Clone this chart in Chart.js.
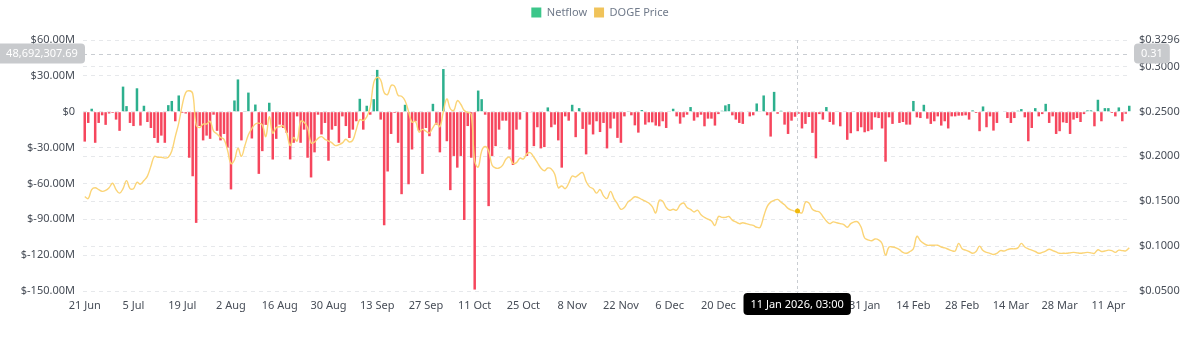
<!DOCTYPE html>
<html>
<head>
<meta charset="utf-8">
<script src="https://cdn.jsdelivr.net/npm/chart.js@4.4.1/dist/chart.umd.min.js"></script>
<style>
  html, body { margin: 0; padding: 0; background: #ffffff; }
  #wrap { width: 1200px; height: 340px; position: relative; }
</style>
</head>
<body>
<div id="wrap"><canvas id="chart"></canvas></div>
<script>
// Daily DOGE exchange netflow (USD millions) and DOGE price (USD), 21 Jun 2025 onward
const startDate = [2025, 5, 21];
const monthNames = ['Jan','Feb','Mar','Apr','May','Jun','Jul','Aug','Sep','Oct','Nov','Dec'];

const netflowM = [
  -25, -9.4, 2.5, -26, -9.4, -3, -11, -1.5, -1, -6.6,
  -16, 21, 4.7, -9.4, -12, 19.6, -11.6, 5, -8.6, -13.6,
  -22, -26, -20, -26, 5.5, 9, -8, 13.6, -1, -1.5,
  -38.5, -54, -93, -12, -24, -20, -22.7, -2.5, -16, -24,
  -18.6, -30, -65, 9.4, 27, -24, 0.5, 16, -22.4, 6,
  -52, -33, -11, 7.5, -40, -22.7, -10.8, -13.6, -17.7, -39.9,
  -26, -3.9, -26, -15, -38.5, -55, -34, -2.5, -19, -9.4,
  -41, -15, -12, -26, -3.9, -12, -22, -15, -8, 10.8,
  -15, 5, -2.5, 10.5, 35, -6.6, -95, -50, -18.6, -1,
  -26, -69, 5.8, -60.7, -31.6, -8, -15.8, -52, -13.6, -20.5,
  6.6, -10.8, -34, 35.7, -24.7, -65.6, -37, -46.8, -37, -90.6,
  -12, -38.5, -148.8, 17.7, 10.5, -2.5, -79, -37, -28.8, -15,
  -7.5, -7.5, -31.6, -44.6, -15, -6.6, 0.3, -37, -0.3, -28.8,
  -13, -30.7, -29.6, 3.6, -13, -10.8, -24, -46.8, -3.9, -7.5,
  5.8, -21.3, 3, -14.4, -35.7, -10.8, -19, -8, -17, -9.4,
  -30.7, -14, -5.8, -21.9, -26, -3.9, 0.5, -3, -11.4, -17.5,
  1.4, -10.8, -8.9, -8.9, -11.6, -12.2, -8, -13.6, 0, 2.5,
  -3.9, -10, -4.7, -2.5, 3.9, -7.5, -4.7, -2.5, -12.2, -5.8,
  -5.8, -11.6, -2, 0.8, 5.3, 6.4, -3, -6.6, -9.4, -10.2,
  0, -3.9, -3, 6.9, 0.3, 13.6, -3, -20.8, 16.6, -1.7,
  0.8, -10.8, -18.6, -7.5, -4.2, -1.7, -14, -10.2, -4.4, -17.7,
  -39, -2, -6.6, 3.9, -8.6, -10.8, 0, -12.2, 0, -23.5,
  -18, 0.5, -16.3, -13, -17.2, -16.3, -15, -4.7, -5.3, -14,
  -41.8, -4.7, -10.2, 0, -9.4, -8.6, -10.8, -10.8, 9, -4.7,
  -5.3, 5.8, -5.8, -10.2, -8, -3.9, -11.6, -8, -14, -3.9,
  -3.9, -3.3, -3.3, -3, -6.6, 1.1, -1.1, -16.3, 4.4, -13,
  -3.9, -15.8, -9.4, 0, 0, -5.3, -9.4, -5.3, 0.8, 2.2,
  -4.7, -24.7, -13.6, 3, -3.9, -2, 6.6, -9.4, -3.9, -18.6,
  -16.3, -8.9, -9.4, -18.6, -6.6, -5.3, -8.6, -2, 1.1, 1.1,
  -12.2, 10, -8, 3, 3, -1.1, -3.9, 3.6, -8, -1.7,
  5
];

const dogePrice = [
  0.155, 0.153, 0.163, 0.165, 0.163, 0.161, 0.162, 0.165, 0.170, 0.163,
  0.159, 0.164, 0.173, 0.164, 0.164, 0.171, 0.169, 0.173, 0.178, 0.189,
  0.200, 0.199, 0.199, 0.198, 0.199, 0.206, 0.222, 0.237, 0.257, 0.271,
  0.273, 0.270, 0.235, 0.232, 0.236, 0.236, 0.239, 0.228, 0.225, 0.221,
  0.219, 0.207, 0.192, 0.196, 0.209, 0.200, 0.212, 0.224, 0.231, 0.236,
  0.237, 0.235, 0.222, 0.244, 0.226, 0.232, 0.233, 0.234, 0.226, 0.212,
  0.221, 0.217, 0.239, 0.238, 0.232, 0.215, 0.216, 0.220, 0.222, 0.219,
  0.217, 0.215, 0.212, 0.213, 0.215, 0.219, 0.216, 0.218, 0.230, 0.241,
  0.240, 0.244, 0.255, 0.282, 0.288, 0.285, 0.271, 0.269, 0.279, 0.278,
  0.268, 0.267, 0.262, 0.250, 0.238, 0.239, 0.227, 0.230, 0.228, 0.226,
  0.232, 0.237, 0.233, 0.250, 0.264, 0.253, 0.251, 0.262, 0.258, 0.251,
  0.249, 0.247, 0.195, 0.188, 0.206, 0.211, 0.206, 0.190, 0.187, 0.187,
  0.190, 0.197, 0.199, 0.192, 0.193, 0.198, 0.197, 0.203, 0.204, 0.199,
  0.193, 0.187, 0.184, 0.187, 0.186, 0.180, 0.165, 0.167, 0.164, 0.170,
  0.178, 0.177, 0.180, 0.182, 0.172, 0.166, 0.164, 0.159, 0.163, 0.156,
  0.153, 0.161, 0.153, 0.147, 0.141, 0.143, 0.149, 0.152, 0.155, 0.154,
  0.152, 0.150, 0.148, 0.144, 0.137, 0.151, 0.150, 0.143, 0.140, 0.141,
  0.140, 0.146, 0.148, 0.143, 0.141, 0.138, 0.140, 0.135, 0.132, 0.130,
  0.128, 0.123, 0.133, 0.132, 0.132, 0.133, 0.129, 0.127, 0.125, 0.126,
  0.125, 0.124, 0.123, 0.121, 0.121, 0.133, 0.144, 0.149, 0.151, 0.152,
  0.149, 0.146, 0.142, 0.140, 0.139, 0.138, 0.137, 0.149, 0.148, 0.141,
  0.139, 0.138, 0.133, 0.128, 0.125, 0.127, 0.126, 0.125, 0.124, 0.121,
  0.125, 0.127, 0.127, 0.121, 0.109, 0.107, 0.106, 0.108, 0.107, 0.103,
  0.090, 0.099, 0.099, 0.098, 0.096, 0.093, 0.092, 0.094, 0.097, 0.111,
  0.106, 0.103, 0.101, 0.101, 0.101, 0.101, 0.099, 0.098, 0.0965, 0.095,
  0.0945, 0.103, 0.097, 0.0955, 0.094, 0.092, 0.094, 0.100, 0.095, 0.093,
  0.092, 0.0906, 0.092, 0.095, 0.0945, 0.096, 0.097, 0.097, 0.098, 0.103,
  0.099, 0.097, 0.0955, 0.094, 0.092, 0.093, 0.0945, 0.0965, 0.095, 0.0935,
  0.092, 0.092, 0.092, 0.0925, 0.093, 0.0925, 0.092, 0.0925, 0.093, 0.0925,
  0.092, 0.096, 0.094, 0.0945, 0.0955, 0.095, 0.093, 0.0955, 0.095, 0.0948,
  0.098
];

const netflowTicks = [-150, -120, -90, -60, -30, 0, 30, 60];
const priceTicks = [0.05, 0.10, 0.15, 0.20, 0.25, 0.30, 0.3296];

// Hovered point shown by the crosshair
const crossIndex = 204;
const crossHour = 3;
const crossNetflow = 48692307.69;
const crossLabel = '11 Jan 2026, 03:00';

// One category per day
const dayLabels = netflowM.map((_, i) => {
  const d = new Date(startDate[0], startDate[1], startDate[2] + i);
  return d.getDate() + ' ' + monthNames[d.getMonth()];
});

const GREEN = '#2DB08E';
const RED = '#F6465D';
const LINE = '#FBD476';
const TEXT = '#474D57';
const GRID = '#E6E8EB';

Chart.defaults.font.family = '"Noto Sans", sans-serif';
Chart.defaults.font.size = 11;
Chart.defaults.color = TEXT;

function roundRect(ctx, x, y, w, h, r) {
  ctx.beginPath();
  ctx.moveTo(x + r, y);
  ctx.lineTo(x + w - r, y);
  ctx.quadraticCurveTo(x + w, y, x + w, y + r);
  ctx.lineTo(x + w, y + h - r);
  ctx.quadraticCurveTo(x + w, y + h, x + w - r, y + h);
  ctx.lineTo(x + r, y + h);
  ctx.quadraticCurveTo(x, y + h, x, y + h - r);
  ctx.lineTo(x, y + r);
  ctx.quadraticCurveTo(x, y, x + r, y);
  ctx.closePath();
}

// Extra room between the legend and the plot
const legendGap = {
  id: 'legendGap',
  beforeLayout(chart) {
    const lg = chart.legend;
    if (lg && !lg._gapPatched) {
      const fit = lg.fit;
      lg.fit = function () { fit.call(this); this.height += 12; };
      lg._gapPatched = true;
    }
  }
};

const crosshair = {
  id: 'crosshair',
  afterDraw(chart) {
    const { ctx, chartArea: a, scales } = chart;
    const xs = scales.x, ys = scales.y, yp = scales.y1;
    const step = (a.right - a.left) / dayLabels.length;
    const cx = xs.getPixelForValue(crossIndex) + step * (0.5 + crossHour / 24);
    const cy = ys.getPixelForValue(crossNetflow / 1e6);
    const rightValue = yp.getValueForPixel(cy);

    ctx.save();
    ctx.lineWidth = 1;
    ctx.strokeStyle = '#C9CDD2';
    ctx.setLineDash([4, 4]);
    ctx.beginPath();
    ctx.moveTo(a.left, Math.round(cy) + 0.5);
    ctx.lineTo(a.right, Math.round(cy) + 0.5);
    ctx.stroke();
    ctx.setLineDash([3, 3]);
    ctx.beginPath();
    ctx.moveTo(Math.round(cx) + 0.5, a.top);
    ctx.lineTo(Math.round(cx) + 0.5, a.bottom + 2);
    ctx.stroke();
    ctx.setLineDash([]);

    // point on the price line
    const py = yp.getPixelForValue(dogePrice[crossIndex]);
    ctx.fillStyle = '#F0B90B';
    ctx.beginPath();
    ctx.arc(Math.round(cx) + 0.5, py, 2.5, 0, Math.PI * 2);
    ctx.fill();

    ctx.font = '11px "Noto Sans", sans-serif';
    ctx.textBaseline = 'middle';
    ctx.textAlign = 'center';

    // left value badge
    const lt = crossNetflow.toLocaleString('en-US', { minimumFractionDigits: 2, maximumFractionDigits: 2 });
    ctx.fillStyle = '#C8CACD';
    roundRect(ctx, -4, cy - 10, 89, 20, 4);
    ctx.fill();
    ctx.fillStyle = '#FFFFFF';
    ctx.fillText(lt, 42, cy + 0.5);

    // right value badge
    const rt = rightValue.toFixed(2);
    const rw = ctx.measureText(rt).width + 14;
    ctx.fillStyle = '#C8CACD';
    roundRect(ctx, a.right + 3, cy - 10, rw, 20, 4);
    ctx.fill();
    ctx.fillStyle = '#FFFFFF';
    ctx.fillText(rt, a.right + 3 + rw / 2, cy + 0.5);

    // date badge on the x axis
    const dw = ctx.measureText(crossLabel).width + 14;
    ctx.fillStyle = '#000000';
    roundRect(ctx, cx - dw / 2, a.bottom + 2, dw, 22, 4);
    ctx.fill();
    ctx.fillStyle = '#FFFFFF';
    ctx.fillText(crossLabel, cx, a.bottom + 13.5);
    ctx.restore();
  }
};

new Chart(document.getElementById('chart'), {
  data: {
    labels: dayLabels,
    datasets: [
      {
        type: 'bar',
        label: 'Netflow',
        data: netflowM,
        yAxisID: 'y',
        order: 2,
        backgroundColor: netflowM.map(v => v >= 0 ? GREEN : RED),
        borderWidth: 0,
        barPercentage: 0.72,
        categoryPercentage: 1.0
      },
      {
        type: 'line',
        label: 'DOGE Price',
        data: dogePrice,
        yAxisID: 'y1',
        order: 1,
        borderColor: LINE,
        backgroundColor: LINE,
        borderWidth: 1.4,
        pointRadius: 0,
        tension: 0.4,
        fill: false
      }
    ]
  },
  options: {
    responsive: true,
    maintainAspectRatio: false,
    animation: false,
    layout: { padding: { top: 0, left: 0, right: 0, bottom: 0 } },
    plugins: {
      tooltip: { enabled: false },
      legend: {
        position: 'top',
        align: 'center',
        labels: {
          boxWidth: 10,
          boxHeight: 10,
          padding: 7,
          color: '#707A8A',
          font: { size: 11 },
          generateLabels: () => [
            { text: 'Netflow', fillStyle: '#3CC68A', strokeStyle: '#3CC68A', lineWidth: 0, datasetIndex: 0, fontColor: '#707A8A' },
            { text: 'DOGE Price', fillStyle: '#F0C35A', strokeStyle: '#F0C35A', lineWidth: 0, datasetIndex: 1, fontColor: '#707A8A' }
          ]
        }
      }
    },
    scales: {
      x: {
        type: 'category',
        offset: true,
        grid: { display: false, drawTicks: false },
        border: { display: false },
        ticks: {
          autoSkip: false,
          maxRotation: 0,
          padding: 8,
          color: TEXT,
          callback: (v, i) => (i % 14 === 0 ? dayLabels[i] : null)
        },
        afterFit: s => { s.height = 49; }
      },
      y: {
        position: 'left',
        min: -150,
        max: 60,
        afterBuildTicks: s => { s.ticks = netflowTicks.map(v => ({ value: v })); },
        grid: { color: GRID, drawTicks: false },
        border: { display: false, dash: [4, 4] },
        ticks: {
          padding: 8,
          color: TEXT,
          callback: v => (v === 0 ? '$0' : '$' + v.toFixed(2) + 'M')
        },
        afterFit: s => { s.width = 83; }
      },
      y1: {
        position: 'right',
        min: 0.05,
        max: 0.3296,
        afterBuildTicks: s => { s.ticks = priceTicks.map(v => ({ value: v })); },
        grid: { color: GRID, drawTicks: false },
        border: { display: false, dash: [4, 4] },
        ticks: {
          padding: 8,
          color: TEXT,
          callback: v => '$' + v.toFixed(4)
        },
        afterFit: s => { s.width = 69; }
      }
    }
  },
  plugins: [legendGap, crosshair]
});
</script>
</body>
</html>
